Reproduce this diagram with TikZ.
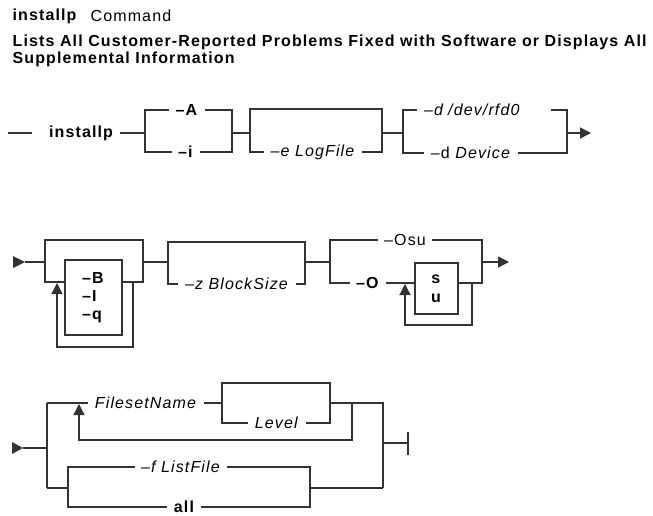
\documentclass[tikz,border=0pt]{standalone}
\usepackage{fontspec}
\setmainfont{Liberation Sans}[LetterSpace=7]
\usetikzlibrary{arrows.meta, positioning}

\begin{document}
\begin{tikzpicture}[x=1pt, y=-1pt, line width=1.3pt, draw=black!80,
    font=\fontsize{16}{18}\selectfont, inner xsep=6pt, inner ysep=1pt,
    dflt/.style={line width=2.6pt},
    tip/.style={-{Triangle[length=11pt,width=11pt]}}]
  \useasboundingbox (0,0) rectangle (653,515);

  % Title
  \node[anchor=west, inner xsep=0pt, font=\fontsize{16}{18}\selectfont\bfseries] (cmd) at (12,16) {installp};
  \node[anchor=west, inner xsep=0pt] (cmdword) at (90,16) {Command};
  \node[anchor=west, inner xsep=0pt, align=left, font=\fontsize{16}{17}\selectfont\bfseries] (purpose) at (12,51)
    {Lists All Customer-Reported Problems Fixed with Software or Displays All\\Supplemental Information};

  % Row 1
  \draw (8,133) -- (32,133);
  \node[font=\fontsize{16}{18}\selectfont\bfseries] (inst) at (81,133) {installp};
  \draw (inst) -- (145,133);
  \node (optA) at (187,110) {\textbf{--A}};
  \node (opti) at (186,152) {\textbf{--i}};
  \draw (optA) -- (145,110) -- (145,152) -- (opti);
  \draw (optA) -- (232,110) -- (232,152) -- (opti);
  \draw (232,133) -- (250,133);
  % LogFile
  \node (logf) at (313,152) {\textit{--e LogFile}};
  \draw[dflt] (250,133) -- (250,109) -- (382,109) -- (382,133);
  \draw (250,133) -- (250,152) -- (logf) -- (382,152) -- (382,133);
  \draw (382,133) -- (403,133);
  % Device
  \node[text width=120pt, align=left] (rfd) at (484,110) {\textit{--d /dev/rfd0}};
  \node (dev) at (471,153) {--d \textit{Device}};
  \draw[dflt] (403,133) |- (rfd);
  \draw[dflt] (rfd) -| (567,133);
  \draw (403,133) |- (dev);
  \draw (dev) -| (567,133);
  \draw[tip] (567,133) -- (591,133);

  % Row 2
  \fill[black!80] (13,256) -- (25,262) -- (13,268) -- cycle;
  \draw (25,262) -- (45,262);
  \node[draw, minimum width=57pt, minimum height=75pt, align=left] (bflags) at (93.5,297.5)
    {\textbf{--B}\\\textbf{--I}\\\textbf{--q}};
  \draw[dflt] (45,262) -- (45,240) -- (143,240) -- (143,262);
  \draw (45,262) -- (45,282) -- (bflags.west |- 0,282);
  \draw (bflags.east |- 0,282) -- (143,282) -- (143,262);
  \draw[tip] (133,282) -- (133,347) -- (57,347) -- (57,283);
  \draw (143,262) -- (168,262);
  % BlockSize
  \node (bsz) at (237,284) {\textit{--z BlockSize}};
  \draw[dflt] (168,262) -- (168,242) -- (305,242) -- (305,262);
  \draw (168,262) -- (168,284) -- (bsz) -- (305,284) -- (305,262);
  \draw (305,262) -- (330,262);
  % Osu
  \node (osu) at (405,240) {--Osu};
  \node (flagO) at (368,283) {\textbf{--O}};
  \node[draw, minimum width=43pt, minimum height=51pt, align=center] (su) at (436.5,288.5)
    {\textbf{s}\\[1pt]\textbf{u}};
  \draw[dflt] (330,262) |- (osu);
  \draw[dflt] (osu) -| (482,262);
  \draw (330,262) |- (flagO);
  \draw (flagO) -- (flagO -| su.west);
  \draw (su.east |- flagO) -- (482,283) -- (482,262);
  \draw[tip] (472,283) -- (472,325) -- (405,325) -- (405,284);
  \draw[tip] (482,262) -- (509,262);

  % Row 3
  \fill[black!80] (12,442) -- (23,448) -- (12,454) -- cycle;
  \draw (23,448) -- (47,448);
  \draw (47,403) -- (47,488);
  \node (fsn) at (146,403) {\textit{FilesetName}};
  \draw (47,403) -- (fsn) -- (222,403);
  % Level
  \node (lvl) at (277,423) {\textit{Level}};
  \draw[dflt] (222,403) -- (222,383) -- (330,383) -- (330,403);
  \draw (222,403) -- (222,423) -- (lvl) -- (330,423) -- (330,403);
  \draw (330,403) -- (383,403) -- (383,488);
  \draw[tip] (352,403) -- (352,440) -- (79,440) -- (79,404);
  % ListFile / all
  \node (lf) at (181,467) {\textit{--f ListFile}};
  \node[inner ysep=0pt, font=\fontsize{16}{18}\selectfont\bfseries] (all) at (184,507) {all};
  \draw (47,488) -- (68,488);
  \draw (lf) -- (68,467) -- (68,507) -- (all) -- (310,507) -- (310,467) -- (lf);
  \draw (310,488) -- (383,488);
  % End
  \draw (383,443) -- (408,443);
  \draw (408,432) -- (408,455);
\end{tikzpicture}
\end{document}
